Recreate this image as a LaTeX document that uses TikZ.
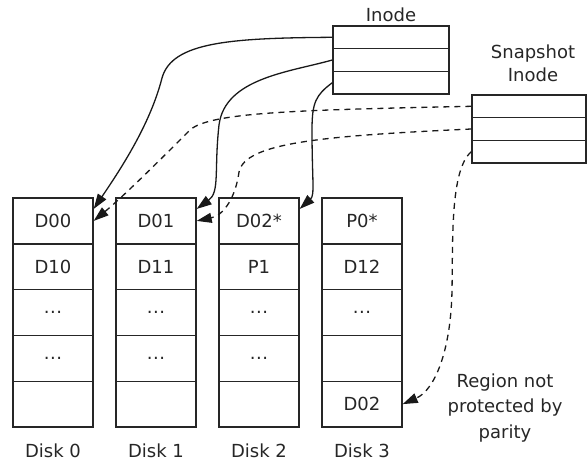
\documentclass[tikz,border=0pt]{standalone}
\usepackage{fontspec}
\setmainfont{DejaVu Sans}
\usetikzlibrary{arrows.meta}
\newcommand{\blkdots}{.\kern0.5pt.\kern0.5pt.}
\begin{document}
\begin{tikzpicture}[x=1pt,y=-1pt,
  txt/.style={text=black!85, font=\fontsize{18}{23}\selectfont},
  cell/.style={txt, draw=black!85, line width=1.4pt, minimum width=80pt,
    minimum height=45.8pt, inner sep=0pt},
  slot/.style={draw=black!85, line width=1.4pt, minimum height=22.7pt, inner sep=0pt},
  link/.style={black!90, line width=1.3pt, -{Triangle[length=15pt,width=10pt]}},
  snap/.style={link, dash pattern=on 6pt off 5pt}]
\useasboundingbox (0,0) rectangle (588,466);

% disk columns: five blocks each
\foreach \d/\a/\b/\c/\e [count=\k from 0] in
  {D00/D10/\blkdots/\blkdots/{}, D01/D11/\blkdots/\blkdots/{},
   D02*/P1/\blkdots/\blkdots/{}, P0*/D12/\blkdots/{}/D02}{
  \pgfmathsetmacro{\cx}{53+103*\k}
  \node[cell] (c\k r1) at (\cx,220.9) {\d};
  \node[cell] (c\k r2) at (\cx,266.7) {\a};
  \node[cell] (c\k r3) at (\cx,312.5) {\b};
  \node[cell] (c\k r4) at (\cx,358.3) {\c};
  \node[cell] (c\k r5) at (\cx,404.1) {\e};
  \node[txt] (lab\k) at (\cx,451) {Disk \k};
}

% inode and snapshot inode
\foreach \r/\y in {1/37.3,2/60,3/82.7}
  \node[slot, minimum width=116pt] (i\r) at (391,\y) {};
\foreach \r/\y in {1/106.3,2/129,3/151.7}
  \node[slot, minimum width=114pt] (s\r) at (529,\y) {};
\node[txt] (ilab) at (391,15) {Inode};
\node[txt, align=center] (slab) at (533,63) {Snapshot\\Inode};
\node[txt, align=center, font=\fontsize{18}{25.5}\selectfont] (note) at (505,408)
  {Region not\\protected by\\parity};

% live block pointers
\draw[link] (i1.west) .. controls (230,38) and (172,42) .. (162,78)
  .. controls (150,125) and (120,170) .. ([yshift=12pt]c0r1.east);
\draw[link] (i2.west) .. controls (290,72) and (225,78) .. (219,125)
  .. controls (214,170) and (220,192) .. ([yshift=12pt]c1r1.east);
\draw[link] (i3.west) .. controls (316,95) and (312,102) .. (312,130)
  .. controls (312,180) and (315,195) .. ([yshift=12pt]c2r1.east);

% snapshot block pointers
\draw[snap] (s1.west) .. controls (300,110) and (210,112) .. (190,130)
  .. controls (165,155) and (125,195) .. (c0r1.east);
\draw[snap] (s2.west) .. controls (320,136) and (245,143) .. (239,172)
  .. controls (236,195) and (225,215) .. (c1r1.east);
\draw[snap] (s3.west) .. controls (450,170) and (453,240) .. (452,290)
  .. controls (451,350) and (435,390) .. (c3r5.east);
\end{tikzpicture}
\end{document}
